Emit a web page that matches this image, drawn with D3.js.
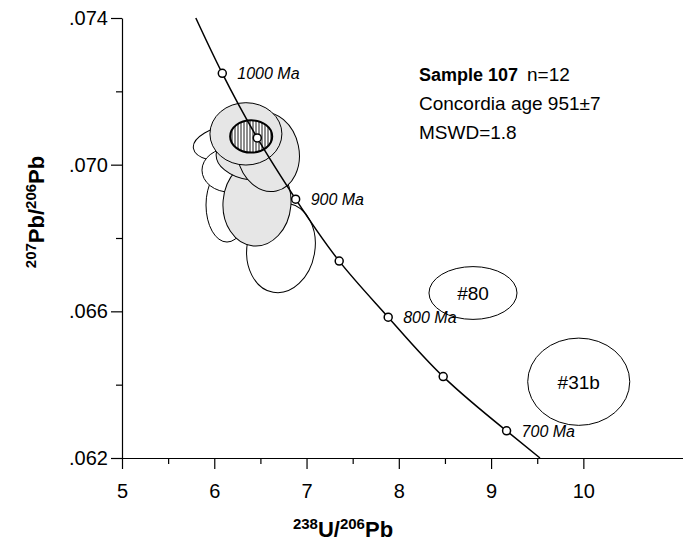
<!DOCTYPE html>
<html><head><meta charset="utf-8">
<script src="https://cdn.jsdelivr.net/npm/d3@7/dist/d3.min.js"></script>
<style>body{margin:0;background:#fff}svg{display:block}text{font-family:Arial,"Liberation Sans",sans-serif}</style>
</head><body><svg id="c" width="683" height="543"></svg>
<script>
// ---- data ----
const xMajorTicks = [5, 6, 7, 8, 9, 10];
const xTickLabels = ["5", "6", "7", "8", "9", "10"];
const xMinorTicks = [5.5, 6.5, 7.5, 8.5, 9.5];
const yMajorTicks = [0.062, 0.066, 0.070, 0.074];
const yTickLabels = [".062", ".066", ".070", ".074"];
const yMinorTicks = [0.064, 0.068, 0.072];

// concordia curve, ages in Ma
const curveAge = [1042, 1000, 950, 900, 850, 800, 750, 700, 675];
const curveX = [5.80, 6.087, 6.466, 6.882, 7.354, 7.885, 8.481, 9.168, 9.53];
const curveY = [0.0740, 0.07249, 0.07073, 0.06906, 0.06737, 0.06584, 0.06422, 0.06274, 0.0620];
const markerAges = [1000, 950, 900, 850, 800, 750, 700];
const ageLabels = ["1000 Ma", "900 Ma", "800 Ma", "700 Ma"];
const ageLabelAges = [1000, 900, 800, 700];

// error ellipses: centre (x,y), semi-axes (x units, y units), tilt (deg), type
const ellName = ["a", "b", "c", "d", "e", "f", "g", "h", "#80", "#31b"];
const ellCx = [6.138, 6.723, 6.257, 6.170, 6.463, 6.408, 6.582, 6.343, 8.804, 9.95];
const ellCy = [0.06890, 0.06773, 0.07062, 0.06985, 0.06895, 0.07018, 0.07035, 0.07084, 0.06650, 0.06408];
const ellRx = [0.2275, 0.368, 0.488, 0.303, 0.368, 0.390, 0.336, 0.390, 0.477, 0.553];
const ellRy = [0.00101, 0.00123, 0.00052, 0.00060, 0.00117, 0.00060, 0.00109, 0.00085, 0.00072, 0.00119];
const ellTilt = [0, 10, -8, 0, 5, 8, -12, 0, 0, 0];
const ellType = ["white", "white", "white", "white", "grey", "grey", "grey", "grey", "open", "open"];

// concordia age ellipse
const concAge = {x: 6.40, y: 0.07077, rx: 0.228, ry: 0.00044};
const infoLines = ["Sample 107", "n=12", "Concordia age 951\u00b17", "MSWD=1.8"];

// ---- drawing ----
const svg = d3.select("#c");
const x = d3.scaleLinear().domain([5, 11.08]).range([122, 683]);
const y = d3.scaleLinear().domain([0.062, 0.074]).range([458, 18]);
const kx = x(1) - x(0), ky = y(0) - y(1);

const defs = svg.append("defs");
const pat = defs.append("pattern").attr("id", "hatch").attr("patternUnits", "userSpaceOnUse")
  .attr("width", 3).attr("height", 10);
pat.append("rect").attr("width", 3).attr("height", 10).attr("fill", "#fff");
pat.append("line").attr("x1", 1).attr("x2", 1).attr("y1", 0).attr("y2", 10)
  .attr("stroke", "#000").attr("stroke-width", 0.9);

// axes
svg.append("g").attr("transform", `translate(0,${y(0.062)})`)
  .call(d3.axisBottom(x).tickValues(xMajorTicks).tickSize(11).tickSizeOuter(0).tickPadding(15)
    .tickFormat((d, i) => xTickLabels[i]));
svg.append("g").attr("transform", `translate(0,${y(0.062)})`)
  .call(d3.axisBottom(x).tickValues(xMinorTicks).tickSize(6).tickFormat(""))
  .select(".domain").remove();
svg.append("g").attr("transform", `translate(${x(5)},0)`)
  .call(d3.axisLeft(y).tickValues(yMajorTicks).tickSize(11).tickSizeOuter(0).tickPadding(3)
    .tickFormat((d, i) => yTickLabels[i]));
svg.append("g").attr("transform", `translate(${x(5)},0)`)
  .call(d3.axisLeft(y).tickValues(yMinorTicks).tickSize(6).tickFormat(""))
  .select(".domain").remove();
svg.selectAll(".tick text").style("font-size", "20px").style("font-family", "Arial, 'Liberation Sans', sans-serif").attr("fill", "#000");
svg.selectAll(".domain, .tick line").attr("stroke", "#000").attr("stroke-width", 1.2);

// axis titles
const xt = svg.append("text").attr("x", 343).attr("y", 537).attr("text-anchor", "middle")
  .style("font-weight", "bold").style("font-size", "22px");
xt.append("tspan").text("238").style("font-size", "15px").attr("dy", -8);
xt.append("tspan").text("U/").attr("dy", 8);
xt.append("tspan").text("206").style("font-size", "15px").attr("dy", -8);
xt.append("tspan").text("Pb").attr("dy", 8);

const yt = svg.append("text").attr("transform", "translate(44,212) rotate(-90)").attr("text-anchor", "middle")
  .style("font-weight", "bold").style("font-size", "22px");
yt.append("tspan").text("207").style("font-size", "15px").attr("dy", -8);
yt.append("tspan").text("Pb/").attr("dy", 8);
yt.append("tspan").text("206").style("font-size", "15px").attr("dy", -8);
yt.append("tspan").text("Pb").attr("dy", 8);

// ellipses
const fills = {white: "#fff", grey: "#e6e6e6", open: "none"};
const ells = ellName.map((n, i) => ({n, cx: ellCx[i], cy: ellCy[i], rx: ellRx[i], ry: ellRy[i], t: ellTilt[i], type: ellType[i]}));
const eg = svg.append("g");
eg.selectAll("ellipse").data(ells).join("ellipse")
  .attr("transform", d => `translate(${x(d.cx)},${y(d.cy)}) rotate(${d.t})`)
  .attr("rx", d => d.rx * kx).attr("ry", d => d.ry * ky)
  .attr("fill", d => fills[d.type]).attr("stroke", "#000").attr("stroke-width", 1);
eg.selectAll("text").data(ells.filter(d => d.type === "open")).join("text")
  .attr("x", d => x(d.cx)).attr("y", d => y(d.cy)).attr("dy", "0.36em")
  .attr("text-anchor", "middle").style("font-size", "19px").text(d => d.n);

svg.append("ellipse").attr("cx", x(concAge.x)).attr("cy", y(concAge.y))
  .attr("rx", concAge.rx * kx).attr("ry", concAge.ry * ky)
  .attr("fill", "url(#hatch)").attr("stroke", "#000").attr("stroke-width", 2);

// concordia
const pts = curveAge.map((a, i) => ({a, x: curveX[i], y: curveY[i]}));
svg.append("path").datum(pts)
  .attr("d", d3.line().x(d => x(d.x)).y(d => y(d.y)).curve(d3.curveNatural))
  .attr("fill", "none").attr("stroke", "#000").attr("stroke-width", 1.5);
const mk = pts.filter(d => markerAges.includes(d.a));
svg.selectAll("circle.m").data(mk).join("circle").attr("class", "m")
  .attr("cx", d => x(d.x)).attr("cy", d => y(d.y)).attr("r", 4)
  .attr("fill", "#fff").attr("stroke", "#000").attr("stroke-width", 1.5);
const lab = pts.filter(d => ageLabelAges.includes(d.a));
svg.selectAll("text.age").data(lab).join("text").attr("class", "age")
  .attr("x", d => x(d.x) + 15).attr("y", d => y(d.y) + 6)
  .style("font-style", "italic").style("font-size", "16px")
  .text(d => ageLabels[ageLabelAges.indexOf(d.a)]);

// info text
svg.append("text").attr("x", 419).attr("y", 81).style("font-weight", "bold").style("font-size", "18px").text(infoLines[0]);
svg.append("text").attr("x", 527).attr("y", 81).style("font-size", "19px").text(infoLines[1]);
svg.append("text").attr("x", 419).attr("y", 110).style("font-size", "19px").text(infoLines[2]);
svg.append("text").attr("x", 419).attr("y", 139).style("font-size", "19px").text(infoLines[3]);
</script></body></html>
